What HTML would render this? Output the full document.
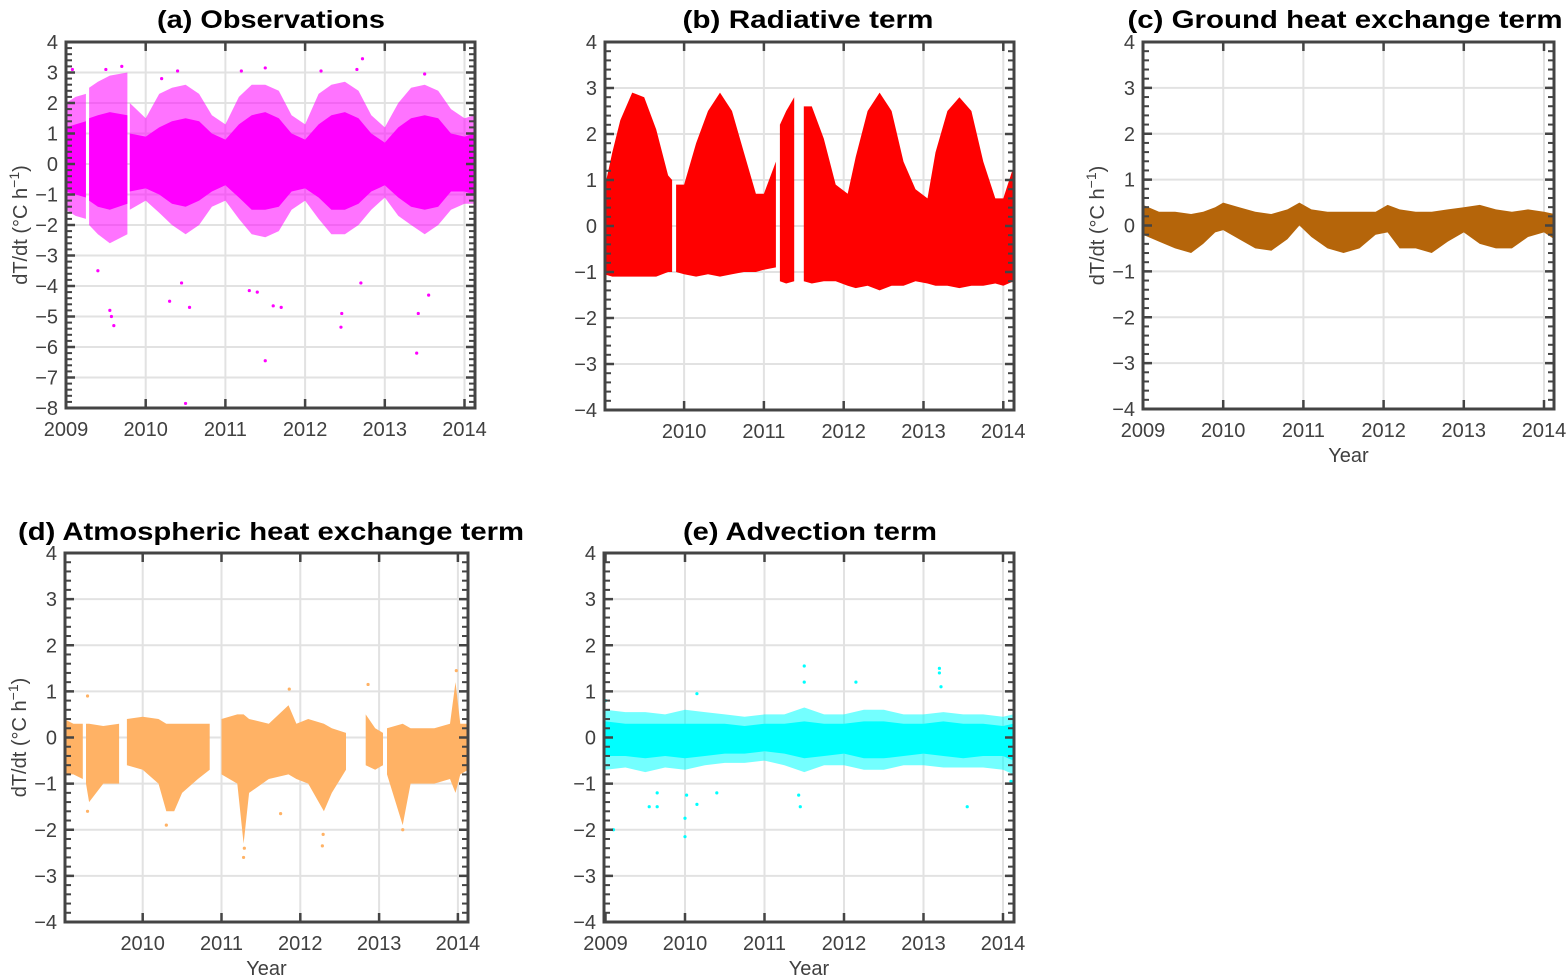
<!DOCTYPE html>
<html><head><meta charset="utf-8"><style>
html,body{margin:0;padding:0;background:#fff;}
svg{display:block;font-family:"Liberation Sans","DejaVu Sans",sans-serif;}
</style></head><body>
<svg id="fig" width="1568" height="976" viewBox="0 0 1568 976" xmlns="http://www.w3.org/2000/svg"></svg>
<script>
// ---------- DATA ----------
const obsTimes = [[2009.0,2009.12,2009.25],[2009.29,2009.4,2009.55,2009.77],
 [2009.8,2010.0,2010.17,2010.33,2010.5,2010.67,2010.83,2011.0,2011.17,2011.33,2011.5,2011.67,2011.83,2012.0,2012.17,2012.33,2012.5,2012.67,2012.83,2013.0,2013.17,2013.33,2013.5,2013.67,2013.83,2014.0,2014.13]];
const obsCoreHi = [[1.2,1.3,1.4],[1.5,1.6,1.7,1.6],
 [1.0,0.9,1.2,1.4,1.5,1.4,1.0,0.8,1.3,1.6,1.7,1.5,1.0,0.8,1.3,1.6,1.7,1.5,1.0,0.7,1.2,1.5,1.6,1.5,1.0,0.9,1.0]];
const obsCoreLo = [[-0.9,-1.0,-1.1],[-1.2,-1.4,-1.5,-1.3],
 [-0.9,-0.8,-1.0,-1.3,-1.4,-1.2,-0.9,-0.7,-1.1,-1.5,-1.5,-1.4,-0.9,-0.8,-1.1,-1.5,-1.5,-1.3,-0.9,-0.7,-1.1,-1.4,-1.5,-1.4,-0.9,-0.9,-1.0]];
const obsOutHi = [[2.0,2.2,2.3],[2.5,2.7,2.9,3.0],
 [2.0,1.5,2.3,2.5,2.6,2.3,1.6,1.3,2.2,2.6,2.6,2.4,1.6,1.3,2.3,2.6,2.7,2.4,1.6,1.2,2.0,2.5,2.6,2.4,1.8,1.5,1.6]];
const obsOutLo = [[-1.5,-1.7,-1.8],[-2.0,-2.3,-2.6,-2.3],
 [-1.5,-1.2,-1.6,-2.0,-2.3,-2.0,-1.4,-1.2,-1.8,-2.3,-2.4,-2.2,-1.5,-1.2,-1.8,-2.3,-2.3,-2.0,-1.5,-1.1,-1.7,-2.0,-2.3,-2.0,-1.5,-1.3,-1.3]];
const obsOutT = [2009.55,2009.57,2009.6,2010.5,2011.5,2012.45,2012.46,2013.4,2013.42,2010.3,2010.55,2011.7,2011.3,2009.4,2012.7,2013.55,2011.6,2010.45,2012.72,2011.5,2009.7,2010.4,2009.08,2012.2,2013.5,2010.2,2011.2,2009.5,2012.65,2011.4];
const obsOutV = [-4.8,-5.0,-5.3,-7.85,-6.45,-5.35,-4.9,-6.2,-4.9,-4.5,-4.7,-4.7,-4.15,-3.5,-3.9,-4.3,-4.65,-3.9,3.45,3.15,3.2,3.05,3.1,3.05,2.95,2.8,3.05,3.1,3.1,-4.2];

const radTimes = [[2009.0,2009.1,2009.2,2009.35,2009.5,2009.65,2009.8,2009.85],
 [2009.9,2010.0,2010.15,2010.3,2010.45,2010.6,2010.75,2010.9,2011.0,2011.15],
 [2011.2,2011.28,2011.38],
 [2011.5,2011.6,2011.75,2011.9,2012.05,2012.15,2012.3,2012.45,2012.6,2012.75,2012.9,2013.05,2013.15,2013.3,2013.45,2013.6,2013.75,2013.9,2014.0,2014.13]];
const radHi = [[0.8,1.6,2.3,2.9,2.8,2.1,1.1,1.0],
 [0.9,0.9,1.8,2.5,2.9,2.5,1.6,0.7,0.7,1.4],
 [2.2,2.5,2.8],
 [2.6,2.6,1.9,0.9,0.7,1.5,2.5,2.9,2.5,1.4,0.8,0.6,1.6,2.5,2.8,2.5,1.4,0.6,0.6,1.3]];
const radLo = [[-1.05,-1.1,-1.1,-1.1,-1.1,-1.1,-1.0,-1.0],
 [-1.0,-1.05,-1.1,-1.05,-1.1,-1.05,-1.0,-1.0,-0.95,-0.9],
 [-1.2,-1.25,-1.2],
 [-1.2,-1.25,-1.2,-1.2,-1.3,-1.35,-1.3,-1.4,-1.3,-1.3,-1.2,-1.25,-1.3,-1.3,-1.35,-1.3,-1.3,-1.25,-1.3,-1.2]];

const gndTimes = [[2009.0,2009.2,2009.4,2009.6,2009.75,2009.9,2010.0,2010.2,2010.4,2010.6,2010.8,2010.95,2011.1,2011.3,2011.5,2011.7,2011.9,2012.05,2012.2,2012.4,2012.6,2012.8,2013.0,2013.2,2013.4,2013.6,2013.8,2014.0,2014.13]];
const gndHi = [[0.45,0.3,0.3,0.25,0.3,0.4,0.5,0.4,0.3,0.25,0.35,0.5,0.35,0.3,0.3,0.3,0.3,0.45,0.35,0.3,0.3,0.35,0.4,0.45,0.35,0.3,0.35,0.3,0.25]];
const gndLo = [[-0.2,-0.35,-0.5,-0.6,-0.4,-0.15,-0.1,-0.3,-0.5,-0.55,-0.3,0.0,-0.25,-0.5,-0.6,-0.5,-0.2,-0.15,-0.5,-0.5,-0.6,-0.35,-0.15,-0.4,-0.5,-0.5,-0.25,-0.15,-0.3]];

const atmTimes = [[2009.0,2009.12,2009.24],[2009.28,2009.32,2009.5,2009.7],
 [2009.8,2010.0,2010.2,2010.3,2010.4,2010.5,2010.7,2010.85],
 [2011.0,2011.2,2011.28,2011.35,2011.6,2011.85,2011.95,2012.1,2012.3,2012.4,2012.58],
 [2012.83,2012.95,2013.05],
 [2013.1,2013.3,2013.4,2013.7,2013.9,2013.97,2014.03,2014.13]];
const atmHi = [[0.4,0.3,0.3],[0.3,0.3,0.25,0.3],[0.4,0.45,0.4,0.3,0.3,0.3,0.3,0.3],
 [0.4,0.5,0.5,0.4,0.3,0.7,0.3,0.4,0.3,0.2,0.1],[0.5,0.2,0.1],[0.2,0.3,0.2,0.2,0.3,1.2,0.3,0.3]];
const atmLo = [[-0.8,-0.8,-0.9],[-1.0,-1.4,-1.0,-1.0],[-0.6,-0.7,-1.0,-1.6,-1.6,-1.2,-0.9,-0.7],
 [-0.8,-1.0,-2.3,-1.2,-0.9,-0.8,-0.9,-1.0,-1.6,-1.2,-0.7],[-0.6,-0.7,-0.6],[-0.8,-1.9,-1.0,-1.0,-0.9,-1.2,-0.8,-0.7]];
const atmOutT = [2011.28,2011.29,2012.28,2012.29,2013.3,2009.3,2010.3,2012.86,2011.86,2009.3,2013.98,2011.75];
const atmOutV = [-2.6,-2.4,-2.35,-2.1,-2.0,-1.6,-1.9,1.15,1.05,0.9,1.45,-1.65];

const advTimes = [[2009.0,2009.25,2009.5,2009.75,2010.0,2010.25,2010.5,2010.75,2011.0,2011.25,2011.5,2011.75,2012.0,2012.25,2012.5,2012.75,2013.0,2013.25,2013.5,2013.75,2014.0,2014.13]];
const advCoreHi = [[0.35,0.3,0.3,0.3,0.3,0.3,0.3,0.25,0.3,0.3,0.35,0.3,0.3,0.35,0.35,0.3,0.3,0.35,0.3,0.3,0.25,0.3]];
const advCoreLo = [[-0.4,-0.4,-0.45,-0.4,-0.45,-0.4,-0.35,-0.35,-0.3,-0.35,-0.45,-0.4,-0.35,-0.45,-0.45,-0.4,-0.35,-0.4,-0.45,-0.4,-0.4,-0.5]];
const advOutHi = [[0.6,0.55,0.55,0.5,0.6,0.55,0.5,0.45,0.5,0.5,0.65,0.5,0.5,0.6,0.6,0.5,0.5,0.55,0.5,0.5,0.45,0.5]];
const advOutLo = [[-0.7,-0.65,-0.75,-0.65,-0.7,-0.6,-0.55,-0.55,-0.5,-0.6,-0.75,-0.6,-0.6,-0.7,-0.7,-0.6,-0.6,-0.65,-0.65,-0.65,-0.7,-0.8]];
const advOutT = [2010.0,2010.0,2010.02,2009.65,2009.65,2009.55,2011.45,2011.5,2011.5,2013.2,2013.2,2013.22,2012.15,2010.15,2010.4,2009.1,2013.55,2011.43,2010.15,2009.0,2014.1];
const advOutV = [-2.15,-1.75,-1.25,-1.2,-1.5,-1.5,-1.5,1.55,1.2,1.5,1.4,1.1,1.2,-1.45,-1.2,-2.0,-1.5,-1.25,0.95,0.8,-0.95];

// ---------- RENDER ----------
const NS = 'http://www.w3.org/2000/svg';
const svg = document.getElementById('fig');
function mk(tag, attrs, parent){const e=document.createElementNS(NS,tag);for(const k in attrs)e.setAttribute(k,attrs[k]);(parent||svg).appendChild(e);return e;}

const panels = [
 {id:'a',title:'(a) Observations',tx:271,ty:28,tw:228,L:66,R:475,T:42,B:408,x0:66,ppy:79.7,ymax:4,ymin:-8,color:'#ff00ff',
  xt:[2009,2010,2011,2012,2013,2014],ylab:true,yearLab:false},
 {id:'b',title:'(b) Radiative term',tx:808,ty:28,tw:251,L:605,R:1014,T:42,B:410,x0:604.3,ppy:79.8,ymax:4,ymin:-4,color:'#ff0000',
  xt:[2010,2011,2012,2013,2014],ylab:false,yearLab:false},
 {id:'c',title:'(c) Ground heat exchange term',tx:1345,ty:28,tw:435,L:1143,R:1554,T:42,B:409,x0:1143,ppy:80.2,ymax:4,ymin:-4,color:'#b5650a',
  xt:[2009,2010,2011,2012,2013,2014],ylab:true,yearLab:true},
 {id:'d',title:'(d) Atmospheric heat exchange term',tx:271,ty:540,tw:506,L:65,R:468,T:553,B:922,x0:63.9,ppy:78.8,ymax:4,ymin:-4,color:'#ffb265',
  xt:[2010,2011,2012,2013,2014],ylab:true,yearLab:true},
 {id:'e',title:'(e) Advection term',tx:810,ty:540,tw:254,L:604,R:1014,T:553,B:922,x0:605.5,ppy:79.5,ymax:4,ymin:-4,color:'#00ffff',
  xt:[2009,2010,2011,2012,2013,2014],ylab:false,yearLab:true}
];
const series = {
 a:{t:obsTimes,hi:obsCoreHi,lo:obsCoreLo,ohi:obsOutHi,olo:obsOutLo,pt:obsOutT,pv:obsOutV},
 b:{t:radTimes,hi:radHi,lo:radLo},
 c:{t:gndTimes,hi:gndHi,lo:gndLo},
 d:{t:atmTimes,hi:atmHi,lo:atmLo,pt:atmOutT,pv:atmOutV},
 e:{t:advTimes,hi:advCoreHi,lo:advCoreLo,ohi:advOutHi,olo:advOutLo,pt:advOutT,pv:advOutV}
};

panels.forEach(p=>{
 const g = mk('g',{});
 
 
 const xs = t => p.x0 + (t-2009)*p.ppy;
 const ys = v => p.T + (p.ymax - v)/(p.ymax-p.ymin)*(p.B-p.T);
 const cp = mk('clipPath',{id:'clip-'+p.id},g);
 mk('rect',{x:p.L,y:p.T,width:p.R-p.L,height:p.B-p.T},cp);
 for(let v=p.ymin+1; v<p.ymax; v++){
  const gl=mk('line',{x1:p.L,x2:p.R,y1:ys(v),y2:ys(v),stroke:'#e2e2e2','stroke-width':2},g);
   
 }
 p.xt.forEach(t=>{ if(t>2009){
  const gl=mk('line',{x1:xs(t),x2:xs(t),y1:p.T,y2:p.B,stroke:'#e2e2e2','stroke-width':2},g);
   
 }});
 const s = series[p.id];
 const dg = mk('g',{'clip-path':'url(#clip-'+p.id+')'},g);
 
 
 function band(T,H,Lo,op,name){
  T.forEach((seg,i)=>{
   let pts=[];
   seg.forEach((t,j)=>pts.push(xs(t).toFixed(1)+','+ys(H[i][j]).toFixed(1)));
   for(let j=seg.length-1;j>=0;j--)pts.push(xs(seg[j]).toFixed(1)+','+ys(Lo[i][j]).toFixed(1));
   const pl=mk('polygon',{points:pts.join(' '),fill:p.color,'fill-opacity':op},dg);
   
   
  });
 }
 if(s.ohi) band(s.t,s.ohi,s.olo,0.55,'outer-envelope');
 band(s.t,s.hi,s.lo,1,'core-envelope');
 if(s.pt){
  s.pt.forEach((t,i)=>{
   const c=mk('circle',{cx:xs(t),cy:ys(s.pv[i]),r:1.6,fill:p.color},dg);
   
   
  });
 }
 for(let v=p.ymin; v<=p.ymax+1e-6; v+=0.2){
  const y=ys(v);
  mk('line',{x1:p.L,x2:p.L+6,y1:y,y2:y,stroke:'#444','stroke-width':2},g);
  mk('line',{x1:p.R-6,x2:p.R,y1:y,y2:y,stroke:'#444','stroke-width':2},g);
 }
 for(let v=p.ymin; v<=p.ymax; v++){
  const y=ys(v);
  mk('line',{x1:p.L,x2:p.L+9,y1:y,y2:y,stroke:'#444','stroke-width':2.5},g);
  mk('line',{x1:p.R-9,x2:p.R,y1:y,y2:y,stroke:'#444','stroke-width':2.5},g);
  const tl=mk('text',{x:p.L-8,y:y+7,'text-anchor':'end','font-size':20,fill:'#404040'},g);
  tl.textContent=(v<0?'\u2212'+(-v):String(v));
   
 }
 p.xt.forEach(t=>{
  const x=xs(t);
  mk('line',{x1:x,x2:x,y1:p.B-9,y2:p.B,stroke:'#444','stroke-width':2.5},g);
  mk('line',{x1:x,x2:x,y1:p.T,y2:p.T+9,stroke:'#444','stroke-width':2.5},g);
  const tl=mk('text',{x:x,y:p.B+28,'text-anchor':'middle','font-size':20,fill:'#404040'},g);
  tl.textContent=String(t);
   
 });
 const fr=mk('rect',{x:p.L,y:p.T,width:p.R-p.L,height:p.B-p.T,fill:'none',stroke:'#444','stroke-width':3},g);
  
 const ti=mk('text',{x:p.tx,y:p.ty,'text-anchor':'middle','font-size':25,'font-weight':'bold',fill:'#000',textLength:p.tw,lengthAdjust:'spacingAndGlyphs'},g);
 ti.textContent=p.title;
  
 if(p.ylab){
  const cy=(p.T+p.B)/2, cx=p.L-39;
  const yl=mk('text',{x:cx,y:cy,transform:'rotate(-90 '+cx+' '+cy+')','text-anchor':'middle','font-size':20,fill:'#404040'},g);
  yl.innerHTML='dT/dt (°C h<tspan dy="-8" font-size="14">−1</tspan><tspan dy="8">)</tspan>';
   
 }
 if(p.yearLab){
  const xl=mk('text',{x:(p.L+p.R)/2,y:p.B+53,'text-anchor':'middle','font-size':20,fill:'#404040'},g);
  xl.textContent='Year';
   
 }
});
</script>
</body></html>
